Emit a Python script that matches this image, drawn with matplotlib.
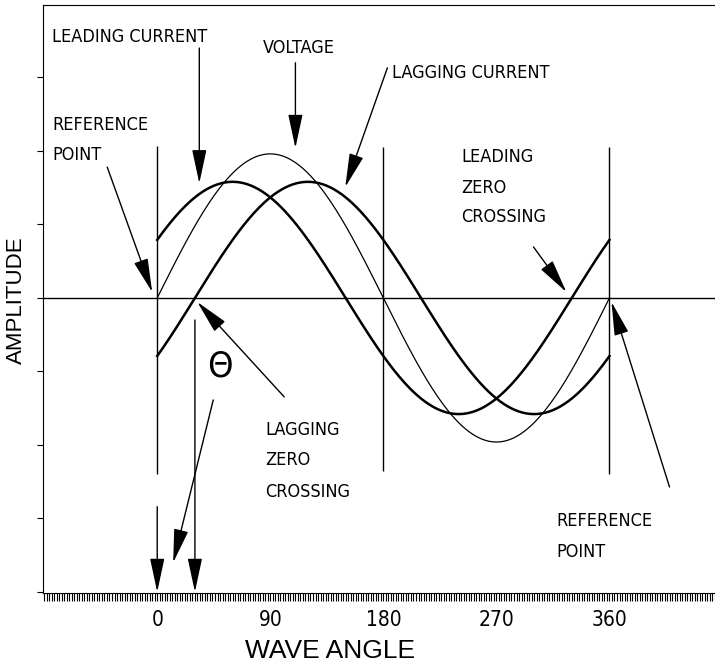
import numpy as np
import matplotlib.pyplot as plt
from matplotlib.ticker import MultipleLocator

narrow = ['Liberation Sans Narrow', 'DejaVu Sans']
plain = ['Liberation Sans', 'DejaVu Sans']

# wave parameters
angle = np.arange(0, 361, 1)
voltage_amp = 0.98
current_amp = 0.79
phase_shift = 30          # degrees, leading / lagging

x_ticks = [0, 90, 180, 270, 360]
ref_lines = [0, 180, 360]

voltage = voltage_amp * np.sin(np.radians(angle))
leading = current_amp * np.sin(np.radians(angle + phase_shift))
lagging = current_amp * np.sin(np.radians(angle - phase_shift))

fig = plt.figure(figsize=(7.15, 6.63), dpi=100)
ax = fig.add_axes([0.060, 0.1056, 0.940, 0.8869])
ax.set_xlim(-91, 444)
ax.set_ylim(-2.007, 1.993)

ax.axhline(0, color='k', lw=1)
ax.plot(angle, voltage, color='k', lw=0.9)
ax.plot(angle, leading, color='k', lw=1.8)
ax.plot(angle, lagging, color='k', lw=1.8)

# reference verticals
ax.vlines(0, -1.197, 1.034, color='k', lw=1)
ax.vlines(180, -1.18, 1.03, color='k', lw=1)
ax.vlines(360, -1.20, 1.03, color='k', lw=1)

arrow = dict(arrowstyle='-|>,head_length=2.1,head_width=0.45', color='k',
             lw=1, mutation_scale=10, shrinkA=0, shrinkB=0)

def point(tip, tail):
    ax.annotate('', xy=tip, xytext=tail, arrowprops=arrow)

point((33.5, 0.78), (33.5, 1.70))       # leading current
point((110, 1.02), (110, 1.60))         # voltage
point((149.7, 0.755), (183.2, 1.565))   # lagging current
point((-4, 0.04), (-39.8, 0.89))        # reference point, left
point((325.7, 0.04), (299.5, 0.347))    # leading zero crossing
point((361.6, -0.027), (407.8, -1.286)) # reference point, right
point((31.9, -0.027), (101.1, -0.673))  # lagging zero crossing
point((12.7, -1.80), (44.6, -0.694))    # theta
point((0, -2.0), (0, -1.42))
point((phase_shift, -2.0), (phase_shift, -0.15))

tsize = 13
kw = dict(family=narrow, size=tsize, fontstretch='condensed')
ax.text(-83.6, 1.741, 'LEADING CURRENT', **kw)
ax.text(-83.6, 1.143, 'REFERENCE', **kw)
ax.text(-83.6, 0.939, 'POINT', **kw)
ax.text(84.4, 1.667, 'VOLTAGE', **kw)
ax.text(187.2, 1.497, 'LAGGING CURRENT', **kw)
for txt, yy in zip(['LEADING', 'ZERO', 'CROSSING'], [0.925, 0.714, 0.517]):
    ax.text(242.1, yy, txt, **kw)
for txt, yy in zip(['LAGGING', 'ZERO', 'CROSSING'], [-0.932, -1.136, -1.354]):
    ax.text(86, yy, txt, **kw)
ax.text(317.8, -1.551, 'REFERENCE', **kw)
ax.text(317.8, -1.762, 'POINT', **kw)
ax.text(50.2, -0.469, '\u0398', family=narrow, size=26, fontstretch='condensed',
        ha='center', va='center')

ax.spines['right'].set_visible(False)
ax.set_xticks(x_ticks)
ax.set_xticklabels([str(t) for t in x_ticks], family=narrow, size=15,
                   fontstretch='condensed')
ax.xaxis.set_minor_locator(MultipleLocator(2))
ax.tick_params(axis='x', which='both', direction='out', length=5.5, width=0.8, pad=7)
ax.yaxis.set_major_locator(MultipleLocator(0.5))
ax.tick_params(axis='y', direction='out', length=4.5, width=0.8, labelleft=False)

fig.text(330 / 715, 1 - 658 / 663, 'WAVE ANGLE', family=plain, size=19,
         ha='center', va='baseline')
fig.text(16 / 715, 1 - 300 / 663, 'AMPLITUDE', family=plain, size=16,
         ha='center', va='center', rotation=90)

fig.savefig('out.png', dpi=100)
